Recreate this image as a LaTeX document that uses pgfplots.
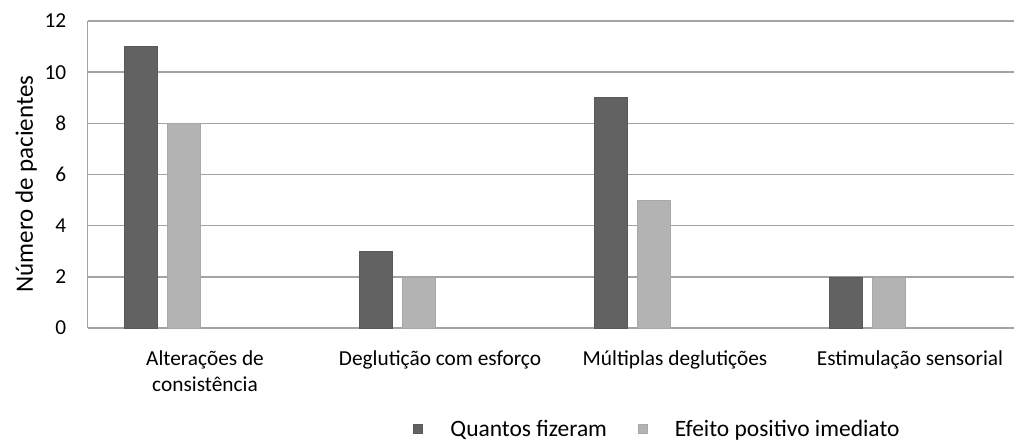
\documentclass[border=0pt]{standalone}
\usepackage{fontspec}
\setmainfont{Carlito}
\usepackage{pgfplots}
\pgfplotsset{compat=1.18}
\definecolor{darkbar}{HTML}{626262}
\definecolor{darkedge}{HTML}{595959}
\definecolor{lightbar}{HTML}{B3B3B3}
\definecolor{lightedge}{HTML}{A8A8A8}
\definecolor{gridc}{HTML}{A3A3A3}
\newcommand{\tl}{\rule{0pt}{15pt}}
\begin{document}
\begin{tikzpicture}
\useasboundingbox (0,0) rectangle (760.5pt,330.75pt);
\begin{axis}[
  at={(65.625pt,84.75pt)}, anchor=south west,
  scale only axis, width=705pt, height=230.25pt,
  xmin=-0.5, xmax=3.5, ymin=0, ymax=12,
  ytick={0,2,4,6,8,10,12},
  xtick={0,1,2,3},
  xticklabels={{\tl Alterações de\\consistência},{\tl Deglutição com esforço},{\tl Múltiplas deglutições},{\tl Estimulação sensorial}},
  major tick length=0pt,
  axis x line=bottom, axis y line=left,
  axis line style={-, draw=gridc, line width=1.2pt},
  ymajorgrids, grid style={draw=gridc, line width=1.2pt},
  /pgf/number format/assume math mode=true,
  yticklabel style={font=\fontsize{16}{19}\selectfont, inner sep=0pt, anchor=east, xshift=-15.75pt},
  xticklabel style={font=\fontsize{16}{19.5}\selectfont, align=center, inner sep=0pt, anchor=north, yshift=-12.75pt},
  clip=false,
  ybar, bar width=24.75pt,
  legend columns=2,
  legend image code/.code={\fill[#1] (0pt,-3.4pt) rectangle (6.75pt,3.4pt);},
  legend style={at={(rel axis cs:0.3468,-0.329)}, anchor=west, draw=none, fill=none,
    inner sep=0pt, outer sep=0pt, font=\fontsize{17.6}{20}\selectfont,
    nodes={inner sep=0pt},
    /tikz/every odd column/.append style={column sep=20.6pt},
    /tikz/every even column/.append style={column sep=23.25pt}},
]
\addplot[fill=darkbar, draw=darkedge, bar shift=-48.375pt] coordinates {(0,11) (1,3) (2,9) (3,2)};
\addplot[fill=lightbar, draw=lightedge, bar shift=-16.125pt] coordinates {(0,8) (1,2) (2,5) (3,2)};
\legend{Quantos fizeram, Efeito positivo imediato}
\node[rotate=90, anchor=base, font=\fontsize{18.75}{22}\selectfont] at (rel axis cs:-0.058,0.469) {Número de pacientes};
\end{axis}
\end{tikzpicture}
\end{document}
